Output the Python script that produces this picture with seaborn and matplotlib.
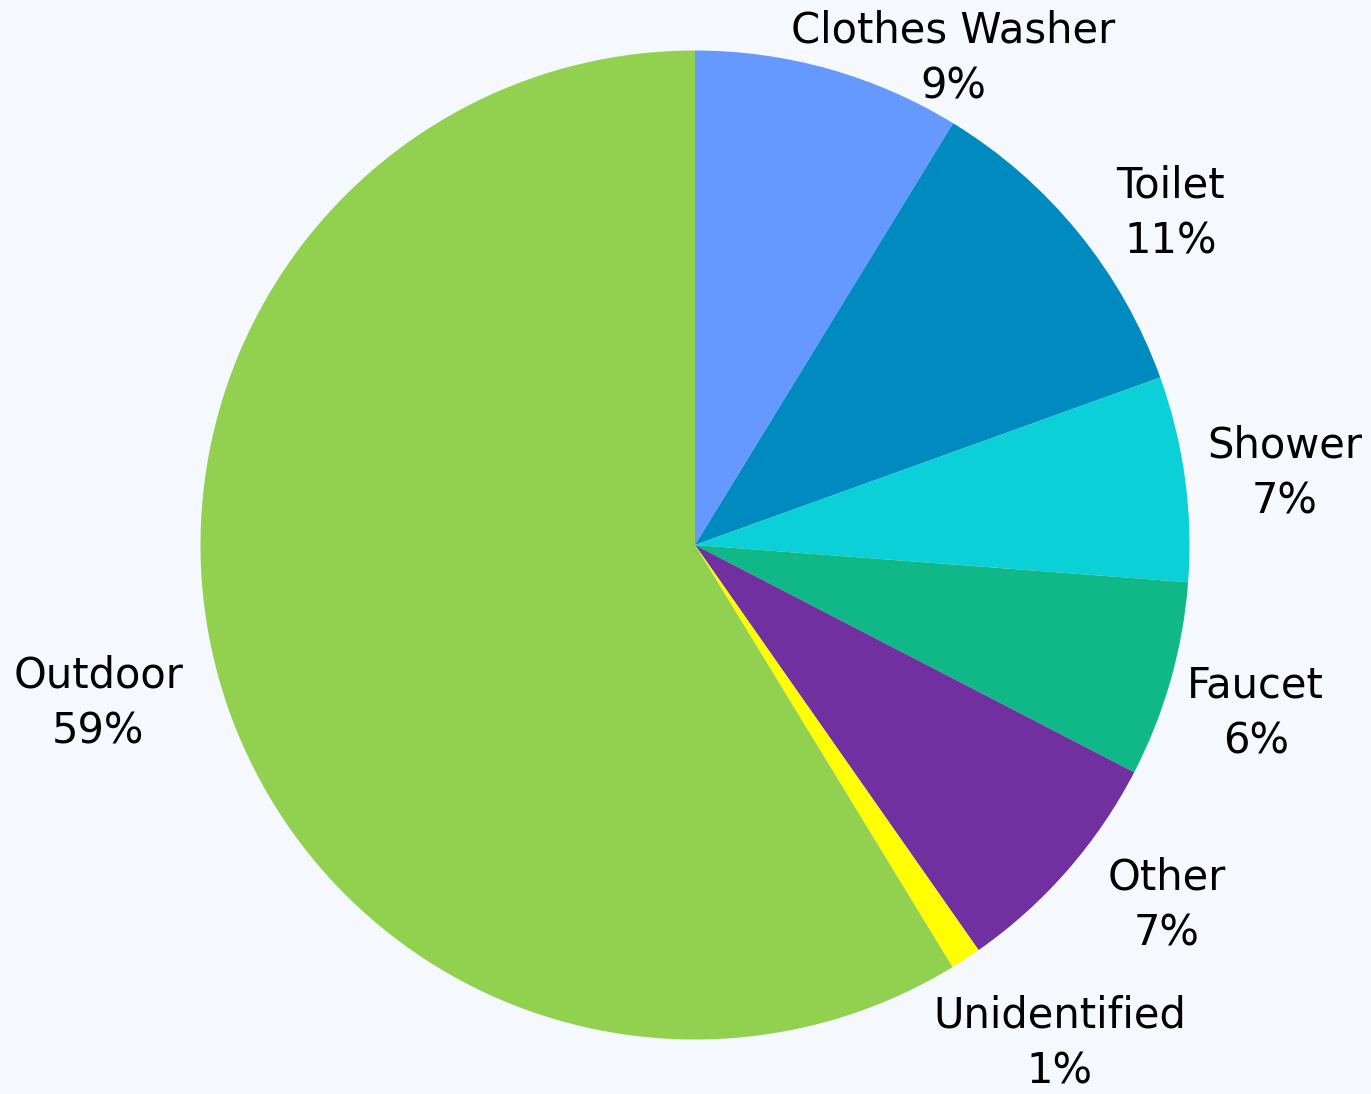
import numpy as np
import seaborn as sns
import matplotlib.pyplot as plt

# Indoor/outdoor water use shares (slice sizes)
categories = ["Clothes Washer", "Toilet", "Shower", "Faucet", "Other", "Unidentified", "Outdoor"]
shares = [8.74, 10.76, 6.70, 6.40, 7.68, 1.00, 58.72]
pct_labels = ["9%", "11%", "7%", "6%", "7%", "1%", "59%"]
colors = ["#6699FF", "#008BC0", "#0CD0D8", "#10B887", "#7030A0", "#FFFF00", "#92D050"]

# label placement tweaks (radius multiple, angle shift in degrees)
label_dist = [1.114, 1.173, 1.202, 1.184, 1.201, 1.249, 1.249]
label_shift = [-12.2, -4.3, -0.8, -0.9, 3.8, 3.0, -0.8]

sns.set_style("white")
plt.rcParams["font.family"] = ["DejaVu Sans"]
bg = "#F5F8FC"

fig = plt.figure(figsize=(13.71, 10.94), dpi=100, facecolor=bg)
ax = fig.add_axes([0, 0, 1, 1])
ax.set_facecolor(bg)

wedges, _ = ax.pie(
    shares,
    colors=sns.color_palette(colors),
    startangle=90,
    counterclock=False,
    radius=1.0,
    wedgeprops=dict(linewidth=0),
)

# text labels centred outside each slice
for w, name, pct, d, s in zip(wedges, categories, pct_labels, label_dist, label_shift):
    ang = np.deg2rad((w.theta1 + w.theta2) / 2 + s)
    ax.text(d * np.cos(ang), d * np.sin(ang), f"{name}\n{pct}",
            ha="center", va="center", fontsize=30, color="black",
            linespacing=1.42)

# pie centre at (695, 545) px, radius 494.5 px
ax.set_xlim(-695 / 494.5, (1371 - 695) / 494.5)
ax.set_ylim(-(1094 - 545) / 494.5, 545 / 494.5)
ax.set_aspect("auto")
ax.axis("off")

plt.savefig("out.png", dpi=100, facecolor=bg)
